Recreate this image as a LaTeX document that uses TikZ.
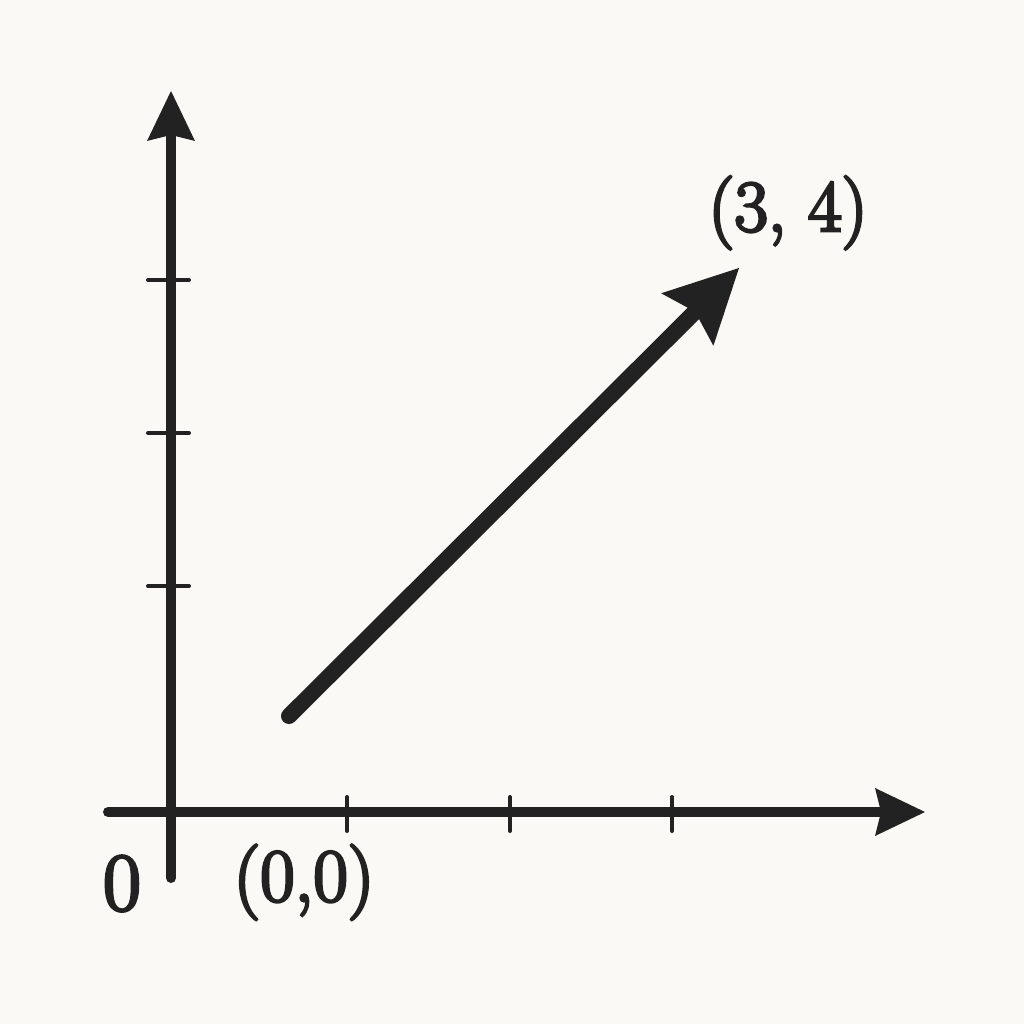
\documentclass[tikz,border=0pt]{standalone}
\usepackage{fontspec}
\newfontfamily\lblfont{Latin Modern Roman}[FakeBold=4]
\usetikzlibrary{arrows.meta}
\definecolor{bg}{HTML}{FAF9F5}
\definecolor{ink}{HTML}{222222}
\begin{document}
\begin{tikzpicture}[x=1pt,y=-1pt,
  axis/.style={draw=ink,line width=10pt,line cap=round},
  axtip/.style={-{Stealth[length=50pt,width=48pt,inset=6pt,line width=0pt]}},
  vec/.style={draw=ink,line width=16pt,line cap=round,
    -{Stealth[length=73pt,width=74pt,inset=11pt,line width=0pt]}},
  tick/.style={draw=ink,line width=4pt,line cap=round},
  lbl/.style={text=ink,inner sep=0pt,anchor=base,font=\lblfont\fontsize{75}{80}\selectfont}]
\fill[bg] (0,0) rectangle (1024,1024);
\useasboundingbox (0,0) rectangle (1024,1024);
% axes
\coordinate (xs) at (108,812);
\coordinate (xe) at (925,812);
\coordinate (ys) at (171,878);
\coordinate (ye) at (171,91);
\draw[axis,axtip] (xs) -- (xe);
\draw[axis,axtip] (ys) -- (ye);
% ticks
\foreach \y/\n in {280/a,433/b,586/c}{
  \coordinate (yt\n l) at (148,\y);
  \coordinate (yt\n r) at (189,\y);
  \draw[tick] (yt\n l) -- (yt\n r);
}
\foreach \x/\n in {347/a,510/b,672/c}{
  \coordinate (xt\n t) at (\x,797);
  \coordinate (xt\n b) at (\x,831);
  \draw[tick] (xt\n t) -- (xt\n b);
}
% vector
\coordinate (v0) at (289,716);
\coordinate (v1) at (739,268);
\draw[vec] (v0) -- (v1);
% labels
\node[lbl,font=\lblfont\fontsize{82}{90}\selectfont] (zero) at (122,910) {0};
\node[lbl] (origin) at (304,901) {(0,0)};
\node[lbl,font=\lblfont\fontsize{73}{80}\selectfont] (end) at (788,231) {(3, 4)};
\end{tikzpicture}
\end{document}
